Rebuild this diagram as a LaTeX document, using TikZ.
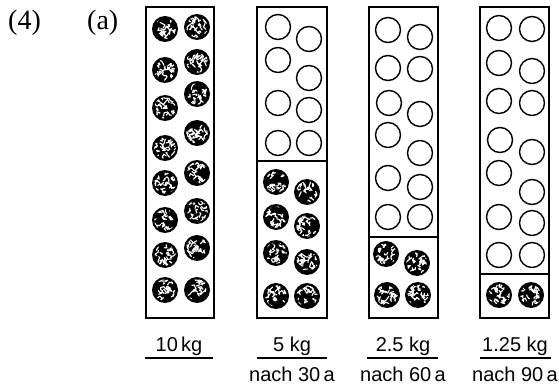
\documentclass[tikz,border=0pt]{standalone}
\usepackage{fontspec}
\setmainfont{Liberation Serif}
\newfontfamily\lsans{Liberation Sans}
\begin{document}
\begin{tikzpicture}[x=1pt,y=-1pt]
\useasboundingbox (0,0) rectangle (559,387);
\tikzset{
  boxline/.style={draw=black,line width=1.5pt},
  ecirc/.style={draw=black,line width=1.4pt},
  ulabel/.style={font=\lsans\fontsize{20}{20}\selectfont,inner sep=0pt,anchor=base},
  uline/.style={draw=black,line width=1.5pt},
  head/.style={font=\fontsize{28}{28}\selectfont,inner sep=0pt,anchor=base west}
}
\pgfmathsetseed{7}
\newcommand\fc[2]{%
  \fill[black] (#1,#2) circle (13);
  \begin{scope}
    \clip (#1,#2) circle (10.8);
    \foreach \k in {1,...,22}{%
      \pgfmathsetmacro\ax{#1+10*rand}%
      \pgfmathsetmacro\ay{#2+10*rand}%
      \draw[white,line width=1.1pt,line cap=round,line join=round]
        (\ax,\ay) -- ++(3*rand,3*rand) -- ++(3*rand,3*rand) -- ++(3*rand,3*rand);
    }
  \end{scope}
}
\newcommand\ec[2]{\draw[ecirc] (#1,#2) circle (12.5);}
% headings
\node[head] (h4) at (8,30) {(4)};
\node[head] (ha) at (87,30) {(a)};
% boxes
\draw[boxline] (146,7) rectangle (214,318);
\draw[boxline] (257,7) rectangle (327,318);
\draw[boxline] (257,161) -- (327,161);
\draw[boxline] (369,7) rectangle (438,318);
\draw[boxline] (369,237) -- (438,237);
\draw[boxline] (480,7) rectangle (549,318);
\draw[boxline] (480,274) -- (549,274);
% box 1
\fc{165}{29}\fc{165}{70}\fc{165}{108}\fc{165}{148}\fc{165}{183}\fc{165}{220}\fc{165}{255}\fc{165}{290}
\fc{197}{27}\fc{197}{62}\fc{197}{94}\fc{197}{133}\fc{197}{173}\fc{197}{211}\fc{197}{248}\fc{197}{290}
% box 2
\ec{278}{27}\ec{278}{60}\ec{278}{103}\ec{278}{143}
\ec{309}{39}\ec{309}{78}\ec{309}{110}\ec{309}{143}
\fc{276}{182}\fc{276}{217}\fc{276}{253}\fc{276}{296}
\fc{307}{192}\fc{307}{226}\fc{307}{262}\fc{307}{296}
% box 3
\ec{388}{30}\ec{388}{68}\ec{389}{103}\ec{388}{135}\ec{388}{178}\ec{388}{217}
\ec{420}{37}\ec{420}{69}\ec{420}{114}\ec{420}{153}\ec{420}{187}\ec{420}{217}
\fc{386}{254}\fc{417}{263}\fc{387}{295}\fc{418}{295}
% box 4
\ec{499}{28}\ec{499}{63}\ec{499}{101}\ec{500}{140}\ec{499}{173}\ec{499}{217}\ec{499}{255}
\ec{532}{29}\ec{532}{71}\ec{532}{103}\ec{532}{152}\ec{532}{192}\ec{532}{223}\ec{532}{255}
\fc{499}{295}\fc{531}{295}
% labels
\node[ulabel] (l1) at (179,351) {10\,kg};
\node[ulabel] (l2) at (292,351) {5 kg};
\node[ulabel] (l3) at (403,351) {2.5 kg};
\node[ulabel] (l4) at (515,351) {1.25 kg};
\draw[uline] (145,358) -- (213,358);
\draw[uline] (257,358) -- (327,358);
\draw[uline] (367,358) -- (438,358);
\draw[uline] (480,358) -- (551,358);
\node[ulabel] (n2) at (292,381) {nach 30\,a};
\node[ulabel] (n3) at (403,381) {nach 60\,a};
\node[ulabel] (n4) at (515,381) {nach 90\,a};
\end{tikzpicture}
\end{document}
